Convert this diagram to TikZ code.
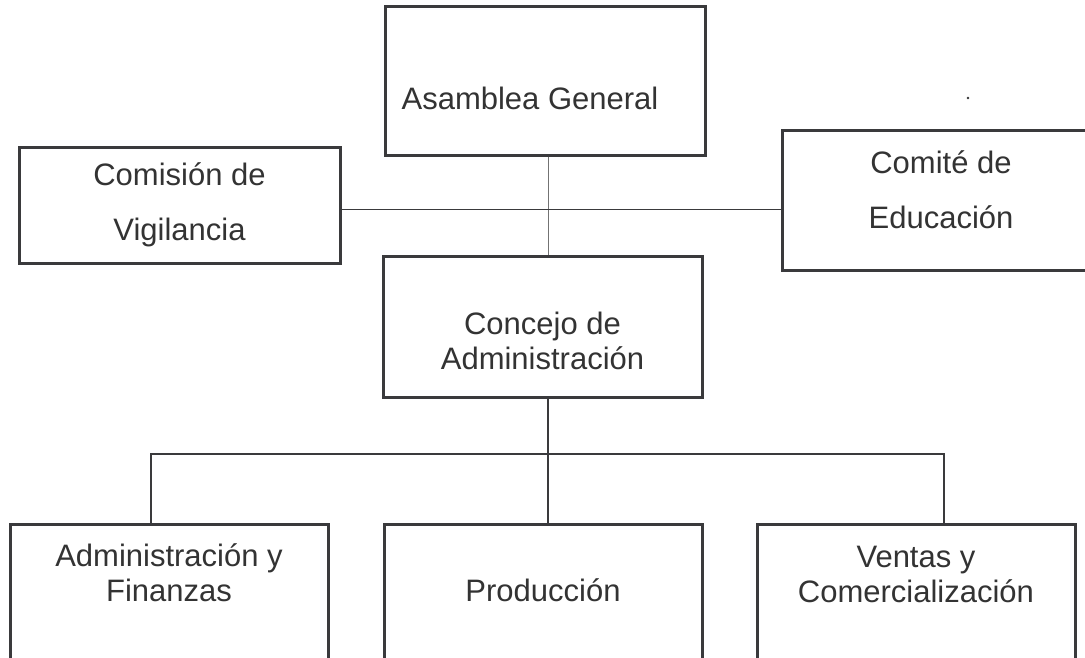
\documentclass[tikz,border=0pt]{standalone}
\usepackage{fontspec}
\setmainfont{Liberation Sans}
\usepackage{tikz}
\definecolor{borde}{HTML}{3A3A3C}
\definecolor{letra}{HTML}{333333}
\tikzstyle{caja} = [rectangle, draw=borde, line width=3pt, fill=white]
\tikzstyle{texto} = [text=letra, font=\fontsize{31}{35}\selectfont, align=center]
\tikzstyle{textoancho} = [text=letra, font=\fontsize{31}{55}\selectfont, align=center]
\tikzstyle{fino} = [draw=gray!90!black, line width=1pt]
\tikzstyle{enlace} = [draw=borde, line width=1.5pt]

\begin{document}
\begin{tikzpicture}[x=1pt, y=-1pt]
\useasboundingbox (0,0) rectangle (1085,657);
\clip (0,0) rectangle (1085,657);
% ejes de los conectores
\coordinate (eje) at (548,0);
\coordinate (r1) at (151,454);
\coordinate (r2) at (548,454);
\coordinate (r3) at (944,454);

% organos de direccion
\node (asamblea) [caja, minimum width=320pt, minimum height=149pt, label={[texto, xshift=-15pt, yshift=-17.5pt]center:Asamblea General}] at (545,80.5) {};
\node (comision) [caja, minimum width=321pt, minimum height=116pt, label={[textoancho]center:Comisión de\\Vigilancia}] at (179.5,205) {};
\node (comite) [caja, minimum width=318pt, minimum height=140pt, label={[textoancho, yshift=10pt]center:Comité de\\Educación}] at (941,200) {};
\node (concejo) [caja, minimum width=319pt, minimum height=141pt, label={[texto, yshift=-14pt]center:Concejo de\\Administración}] at (542.5,326.5) {};

% areas
\node (finanzas) [caja, minimum width=318pt, minimum height=200pt, label={[texto, yshift=51.5pt]center:Administración y\\Finanzas}] at (169,624) {};
\node (produccion) [caja, minimum width=318pt, minimum height=200pt, label={[texto, yshift=34pt]center:Producción}] at (543,624) {};
\node (ventas) [caja, minimum width=318pt, minimum height=200pt, label={[texto, yshift=49.5pt]center:Ventas y\\Comercialización}] at (916,624) {};

\draw [fino] (asamblea.south -| eje) -- (concejo.north -| eje);
\draw [fino, draw=borde] ([yshift=-4pt]comision.east) -- ([yshift=-4pt]comision.east -| comite.west);
\draw [enlace] (concejo.south -| eje) -- (r2) -- (produccion.north -| eje);
\draw [enlace] (finanzas.north -| r1) -- (r1) -- (r3) -- (ventas.north -| r3);

\fill [letra] (968,98) circle (1.3pt);
\end{tikzpicture}
\end{document}
